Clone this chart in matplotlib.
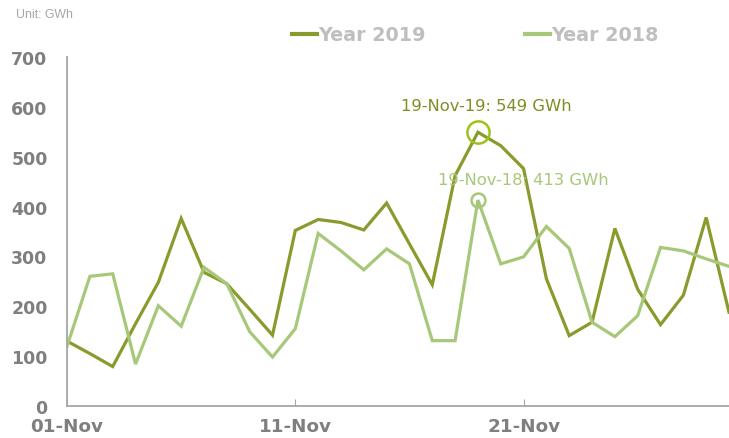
import numpy as np
import matplotlib.pyplot as plt

# Daily power consumption in November (GWh)
days = np.arange(1, 31)
year_2019 = [130, 105, 79, 165, 248, 376, 268, 245, 194, 142,
             352, 374, 368, 353, 407, 325, 243, 462, 549, 522,
             476, 255, 141, 168, 356, 234, 163, 222, 378, 188]
year_2018 = [120, 260, 265, 84, 201, 160, 278, 245, 149, 98,
             155, 346, 311, 273, 315, 285, 131, 131, 413, 285,
             299, 360, 316, 168, 139, 181, 318, 311, 295, 280]
tick_days = [1, 11, 21]
tick_labels = ['01-Nov', '11-Nov', '21-Nov']

dark = '#889b2c'
light = '#a7c878'
grey = '#7f7f7f'

fig = plt.figure(figsize=(7.29, 4.39), dpi=100)
ax = fig.add_axes([0.092, 0.073, 0.908, 0.795])

ax.plot(days, year_2019, color=dark, lw=2.3, label='Year 2019', solid_joinstyle='miter')
ax.plot(days, year_2018, color=light, lw=2.3, label='Year 2018', solid_joinstyle='miter')

# highlight the peaks
i19 = int(np.argmax(year_2019))
i18 = int(np.argmax(year_2018))
ax.plot(days[i19], year_2019[i19], 'o', ms=16, mfc='none', mec='#9dc21c', mew=1.8, clip_on=False)
ax.plot(days[i18], year_2018[i18], 'o', ms=10, mfc='none', mec=light, mew=1.8, clip_on=False)
ax.annotate(f'19-Nov-19: {year_2019[i19]} GWh', (days[i19], year_2019[i19]),
            xytext=(6, 19), textcoords='offset points', ha='center', va='center',
            color='#7d8f22', fontsize=11.8)
ax.annotate(f'19-Nov-18: {year_2018[i18]} GWh', (days[i18], year_2018[i18]),
            xytext=(33, 15), textcoords='offset points', ha='center', va='center',
            color=light, fontsize=11.8)

ax.set_xlim(1, 30)
ax.set_ylim(0, 700)
ax.set_yticks(range(0, 701, 100))
ax.set_xticks(tick_days)
ax.set_xticklabels(tick_labels)
for lab in ax.get_yticklabels():
    lab.set_fontweight('bold')
    lab.set_color(grey)
    lab.set_fontsize(12.5)
for lab in ax.get_xticklabels():
    lab.set_fontweight('bold')
    lab.set_color(grey)
    lab.set_fontsize(13.2)
ax.tick_params(axis='y', length=0, pad=14)
ax.tick_params(axis='x', direction='in', length=5, color='#a6a6a6', pad=8)

for s in ['top', 'right']:
    ax.spines[s].set_visible(False)
for s in ['left', 'bottom']:
    ax.spines[s].set_color('#a6a6a6')
    ax.spines[s].set_linewidth(1.3)

leg = fig.legend(loc='center', bbox_to_anchor=(0.652, 0.918), ncol=2, frameon=False,
                 handlelength=1.3, handletextpad=0.05, columnspacing=5.2,
                 prop={'weight': 'bold', 'size': 13.8})
for t in leg.get_texts():
    t.set_color('#bfbfbf')
for h in leg.get_lines():
    h.set_linewidth(3)

fig.text(0.022, 0.965, 'Unit: GWh', color='#a6a6a6', fontsize=8.8,
         family='Liberation Sans', va='center')

plt.savefig('out.png', dpi=100)
